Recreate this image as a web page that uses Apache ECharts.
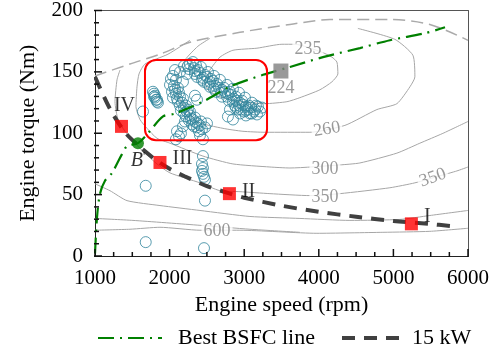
<!DOCTYPE html>
<html><head><meta charset="utf-8">
<script src="https://cdn.jsdelivr.net/npm/echarts@6/dist/echarts.min.js"></script>
<style>html,body{margin:0;padding:0;background:#fff}#c{width:502px;height:356px}</style>
</head><body><div id="c"></div>
<script>
// ---- data ----
const xTicks = [1000, 2000, 3000, 4000, 5000, 6000];
const yTicks = [0, 50, 100, 150, 200];

const maxTorque = [[1000,146.7],[1469,156.4],[1871,164.4],[2273,174.1],[2943,182.2],[3613,188.6],[4149,192.6],[4953,192.6],[5489,188.6],[6000,175.7]];
const c235 = [[2474,141.9],[2541,151.5],[2675,162],[2849,167.6],[3171,169.3],[3506,172.5],[3680,172.5],[4042,166],[4176,162],[4243,158],[4256,148.3],[4176,141.9],[4015,135.4],[3747,129],[3573,125.7],[3278,124.1],[2943,125.7],[2675,129.8],[2514,135.4],[2474,141.9]];
const c260 = [[2541,177.3],[2380,170.9],[2206,159.6],[2099,143.5],[2139,127.3],[2367,109.6],[2715,104],[2983,101.6],[3278,100.8],[3881,100.8],[4350,106.4],[4779,119.3],[5047,124.1],[5221,137.8],[5288,145.9],[5261,163.6],[5020,176.5],[4524,185.4]];
const c300 = [[2273,175.7],[1978,164.4],[1670,156.4],[1590,148.3],[1563,137.8],[1549,121.7],[1603,111.2],[1697,104],[1831,95.9],[2005,91.9],[2447,81.4],[2849,75],[3345,72.5],[3613,71.7],[4283,74.2],[4551,75.8],[5047,83.8],[5355,91.9],[5663,99.9],[6000,109.6]];
const c350 = [[1335,151.5],[1295,143.5],[1268,125.7],[1308,111.2],[1402,101.6],[1536,91.9],[1670,83.8],[1831,75],[2005,67.7],[2407,59.6],[2675,53.2],[2943,52.4],[3345,50.8],[3881,49.2],[4283,50.8],[4953,55.6],[5288,59.6],[5623,65.3],[5851,69.3],[6000,72.5]];
const c450 = [[1000,58.8],[1201,53.2],[1429,45.1],[1871,41.1],[2407,37.1],[3077,32.2],[3747,30.6],[4417,29],[5087,29.8],[5489,33],[6000,37.1]];
const c500 = [[1000,30.6],[1509,29],[2407,25],[3077,21.8],[3747,19.3]];
const c600 = [[1000,21],[1469,21.8],[1871,23.4],[2407,21],[2943,21],[3975,18.5],[4859,19.3],[5489,20.1],[6000,22.6]];
const contourLabels = [[3854,168.5,'235',0],[4109,103.2,'260',10],[4082,70.9,'300',0],[4082,47.6,'350',0],[5529,63.7,'350',20],[2635,20.1,'600',0]];

const bestBsfc = [[1000,2],[1027,31.5],[1067,50.8],[1134,61.3],[1228,67.7],[1362,83],[1429,89.5],[1576,92],[1710,100],[1912,113.7],[2072,116],[2448,125.8],[2810,138],[3252,147.6],[3614,154],[4056,162],[4552,169.4],[4954,175.8],[5424,181.5],[5692,186.3]];
const power15kW = [[1000,146],[1200,120],[1400,101],[1600,89],[1800,79],[2000,71],[2200,65],[2500,57],[2800,51],[3000,47.5],[3500,41],[4000,36],[4500,32],[5000,28.5],[5500,26],[5760,24.5]];

const operatingPoints = [
 [2273,156.4],[2313,158],[2260,152.3],[2327,153.1],[2353,155.6],[2380,151.5],[2340,148.3],[2420,154],[2367,145.9],
 [2474,147.5],[2434,143.5],[2514,149.9],[2460,141.9],[2554,144.3],[2514,140.2],[2595,146.7],[2541,137.8],
 [2635,140.2],[2595,136.2],[2675,143.5],[2621,133.8],[2729,137],[2688,133],[2769,139.4],[2702,129.8],
 [2809,133.8],[2769,129.8],[2849,136.2],[2796,126.5],[2889,129.8],[2849,125.7],[2930,133],[2876,122.5],
 [2970,126.5],[2930,122.5],[3010,129],[2956,119.3],[3064,122.5],[3023,118.5],[3104,124.9],[3077,116.1],
 [3144,119.3],[3104,116.1],[3184,121.7],[3211,117.7],[2782,113.6],[2849,111.2],[2943,116.1],[3023,114.5],
 [3157,122.5],[3238,120.9],[2916,119.3],
 [2246,154.8],[2340,150.7],[2407,149.1],[2447,145.1],[2501,145.9],[2541,141.9],[2581,142.7],[2608,138.6],
 [2662,137],[2702,135.4],[2742,133.8],[2782,132.2],[2822,131.4],[2863,128.2],[2903,126.5],[2943,124.9],
 [2983,123.3],[3023,121.7],[3050,119.3],[3090,120.9],[3131,117.7],[3171,115.3],[2997,117.7],[2889,120.9],[2809,119.3],
 [2072,151.5],[2045,146.7],[2085,143.5],[2005,139.4],[2059,138.6],[2112,137],[2032,133.8],[2085,132.2],
 [2139,129.8],[2045,129],[2112,125.7],[2166,124.9],[2193,120.9],[2152,118.5],[2233,117.7],[2219,113.6],
 [2273,114.5],[2260,110.4],[2313,111.2],[2300,107.2],[2353,108.8],[2367,104.8],[2407,106.4],[2434,103.2],
 [2474,104.8],[2501,108],[2393,101.6],[2099,101.6],[2126,97.5],[2085,95.1],[2152,99.9],[2407,98.3],
 [2447,95.1],[2206,109.6],[2179,105.6],[2367,127.3],[2340,130.6],[2139,149.9],[2193,154.8],[2233,148.3],[2179,141.9],
 [2018,144.3],[2072,135.4],[2126,133],[2099,128.2],[2179,128.2],[2139,122.5],[2219,122.5],[2246,119.3],
 [2193,116.1],[2273,117.7],[2286,112],[2340,112.8],[2327,105.6],[2380,108],[2420,109.6],
 [1777,133.8],[1791,132.2],[1804,130.6],[1804,129],[1818,127.3],[1831,125.7],[1844,124.9],[1791,129.8],[1831,127.3],
 [1643,117.7],
 [2447,81.4],[2434,75],[2447,71.7],[2434,69.3],[2447,66.9],[2461,64.5],[2474,62.1],[2474,45.1],[2461,6.4],
 [1680,57.2],[1680,11.3]
];

const caseNames = ['I', 'II', 'III', 'IV'];
const caseRpm = [5241, 2802, 1871, 1355];
const caseTorque = [26.2, 50.8, 76.2, 105.6];
const minBsfcPoint = [3492, 150.7, '224'];
const pointB = [1576, 91.9];
const redBox = [1670, 94.3, 3306, 159.6];
const legendNames = ['Best BSFC line', '15 kW'];

const xMin = xTicks[0], xMax = xTicks[xTicks.length - 1], yMin = yTicks[0], yMax = yTicks[yTicks.length - 1];

// tick mark positions (major every 1000 rpm / 50 Nm, minor every 250 rpm / 10 Nm)
const xTickMarks = [], yTickMarks = [];
for (let v = xMin; v <= xMax; v += 250) xTickMarks.push({value: [v, yMin], major: v % 1000 === 0});
for (let v = yMin; v <= yMax; v += 10) yTickMarks.push({value: [xMin, v], major: v % 50 === 0});

// ---- chart ----
const serif = '"Liberation Serif", "Times New Roman", serif';
const chart = echarts.init(document.getElementById('c'), null, {renderer: 'canvas'});
const contourStyle = {color: '#a6a6a6', width: 1};
function contour(d) {
  return {type: 'line', data: d, symbol: 'none', smooth: 0.2, lineStyle: contourStyle, z: 1, silent: true};
}
const casePos = [
  {position: 'right', distance: 6, offset: [0, -7]},
  {position: 'right', distance: 6, offset: [0, -2]},
  {position: 'right', distance: 6, offset: [0, -4]},
  {position: 'top', distance: 4, offset: [3, 0]}
];
const bsfcDash = [16, 6, 2, 6];
const kwDash = [13, 9];
function frameAxis(pos, isX) {
  return {type: 'value', position: pos, min: isX ? xMin : yMin, max: isX ? xMax : yMax,
    axisLine: {show: true, onZero: false, lineStyle: {color: '#555', width: 1}},
    axisTick: {show: false}, minorTick: {show: false}, axisLabel: {show: false}, splitLine: {show: false}};
}
chart.setOption({
  animation: false,
  grid: {left: 95, right: 34, top: 8, bottom: 100, show: false},
  xAxis: [{
    type: 'value', position: 'bottom', min: xMin, max: xMax, interval: 1000,
    name: 'Engine speed (rpm)', nameLocation: 'middle', nameGap: 38,
    nameTextStyle: {fontFamily: serif, fontSize: 22, color: '#000'},
    axisLine: {show: true, onZero: false, lineStyle: {color: '#222', width: 1}},
    axisTick: {show: false}, minorTick: {show: false}, splitLine: {show: false},
    axisLabel: {fontFamily: serif, fontSize: 21, color: '#000', margin: 12, formatter: v => String(v)}
  }, frameAxis('top', true)],
  yAxis: [{
    type: 'value', position: 'left', min: yMin, max: yMax, interval: 50,
    name: 'Engine torque (Nm)', nameLocation: 'middle', nameGap: 56,
    nameTextStyle: {fontFamily: serif, fontSize: 22, color: '#000'},
    axisLine: {show: true, onZero: false, lineStyle: {color: '#222', width: 1}},
    axisTick: {show: false}, minorTick: {show: false}, splitLine: {show: false},
    axisLabel: {fontFamily: serif, fontSize: 21, color: '#000', margin: 12, formatter: v => String(v)}
  }, frameAxis('right', false)],
  series: [
    {type: 'line', name: 'maxT', data: maxTorque, symbol: 'none', smooth: 0.3, z: 1,
     lineStyle: {color: '#aaaaaa', width: 1.5, type: [12, 6]}},
    contour(c235), contour(c260), contour(c300), contour(c350), contour(c450), contour(c500), contour(c600),
    {type: 'scatter', name: 'clabels', z: 2, symbolSize: 1, itemStyle: {color: 'rgba(0,0,0,0)'},
     data: contourLabels.map(d => ({value: [d[0], d[1]], label: {rotate: d[3]}, txt: d[2]})),
     label: {show: true, position: 'inside', formatter: p => p.data.txt, fontFamily: serif, fontSize: 18,
             color: '#7f7f7f', backgroundColor: '#fff', padding: [0, 2]}},
    {type: 'scatter', name: 'ops', data: operatingPoints, symbol: 'circle', symbolSize: 11, z: 3,
     itemStyle: {color: 'rgba(0,0,0,0)', borderColor: '#31859c', borderWidth: 1}},
    {type: 'line', name: legendNames[0], data: bestBsfc, symbol: 'none', smooth: 0.3, z: 4,
     lineStyle: {color: '#008000', width: 2.2, type: bsfcDash}},
    {type: 'line', name: legendNames[1], data: power15kW, symbol: 'none', smooth: 0.3, z: 4,
     lineStyle: {color: '#404040', width: 4, type: kwDash}},
    {type: 'scatter', name: 'cases', symbol: 'rect', symbolSize: 13, z: 5,
     itemStyle: {color: '#ff0000'},
     data: caseNames.map((n, i) => ({value: [caseRpm[i], caseTorque[i]], name: n, label: casePos[i]})),
     label: {show: true, formatter: p => p.name, fontFamily: serif, fontSize: 20, color: '#000'}},
    {type: 'scatter', name: 'minBsfc', symbol: 'rect', symbolSize: 15, z: 5, itemStyle: {color: '#808080'},
     data: [{value: [minBsfcPoint[0], minBsfcPoint[1]], name: minBsfcPoint[2]}],
     label: {show: true, position: 'bottom', distance: 1, formatter: p => p.name, fontFamily: serif, fontSize: 18, color: '#7f7f7f'}},
    {type: 'scatter', name: 'B', symbol: 'circle', symbolSize: 12, z: 5, itemStyle: {color: '#008000'},
     data: [pointB],
     label: {show: true, position: 'bottom', distance: 2, formatter: '{i|B}{p|\'}',
             rich: {i: {fontFamily: serif, fontStyle: 'italic', fontSize: 20, color: '#000'},
                    p: {fontFamily: serif, fontSize: 12, color: '#000', verticalAlign: 'top', padding: [0, 0, 8, 0]}}}},
    // inward tick marks as tiny rect symbols sitting on the axes
    {type: 'scatter', name: 'xticks', silent: true, clip: false, z: 8, symbol: 'rect',
     data: xTickMarks.map(t => ({value: t.value, symbolSize: [1.5, t.major ? 14 : 8]})),
     itemStyle: {color: '#111', opacity: 1}},
    {type: 'scatter', name: 'yticks', silent: true, clip: false, z: 8, symbol: 'rect',
     data: yTickMarks.map(t => ({value: t.value, symbolSize: [t.major ? 14 : 8, 1.5]})),
     itemStyle: {color: '#111', opacity: 1}}
  ]
});

// red annotation box and the legend, positioned through the chart's own scales
const toPx = (x, y) => chart.convertToPixel({gridIndex: 0}, [x, y]);
const p1 = toPx(redBox[0], redBox[3]);
const p2 = toPx(redBox[2], redBox[1]);
const p0 = toPx(xMin, yMin);
const font = '22px ' + serif;
chart.setOption({graphic: [
  // white masks hide the outer half of the centred tick symbols so the ticks point inward only
  {type: 'rect', z: 100, silent: true, shape: {x: p0[0] - 10, y: p0[1] + 1, width: 400, height: 8}, style: {fill: '#fff'}},
  {type: 'rect', z: 100, silent: true, shape: {x: p0[0] - 9, y: p1[1] - 60, width: 8, height: 260}, style: {fill: '#fff'}},
  {type: 'rect', z: 10, shape: {x: p1[0], y: p1[1], width: p2[0] - p1[0], height: p2[1] - p1[1], r: 11},
   style: {fill: 'none', stroke: '#ff0000', lineWidth: 2}},
  {type: 'line', z: 10, shape: {x1: 98, y1: 338, x2: 162, y2: 338}, style: {stroke: '#008000', lineWidth: 2.2, lineDash: bsfcDash}},
  {type: 'text', z: 10, x: 178, y: 338, style: {text: legendNames[0], font: font, fill: '#000', verticalAlign: 'middle'}},
  {type: 'line', z: 10, shape: {x1: 342, y1: 338, x2: 405, y2: 338}, style: {stroke: '#404040', lineWidth: 4, lineDash: kwDash}},
  {type: 'text', z: 10, x: 412, y: 338, style: {text: legendNames[1], font: font, fill: '#000', verticalAlign: 'middle'}}
]});
</script></body></html>
